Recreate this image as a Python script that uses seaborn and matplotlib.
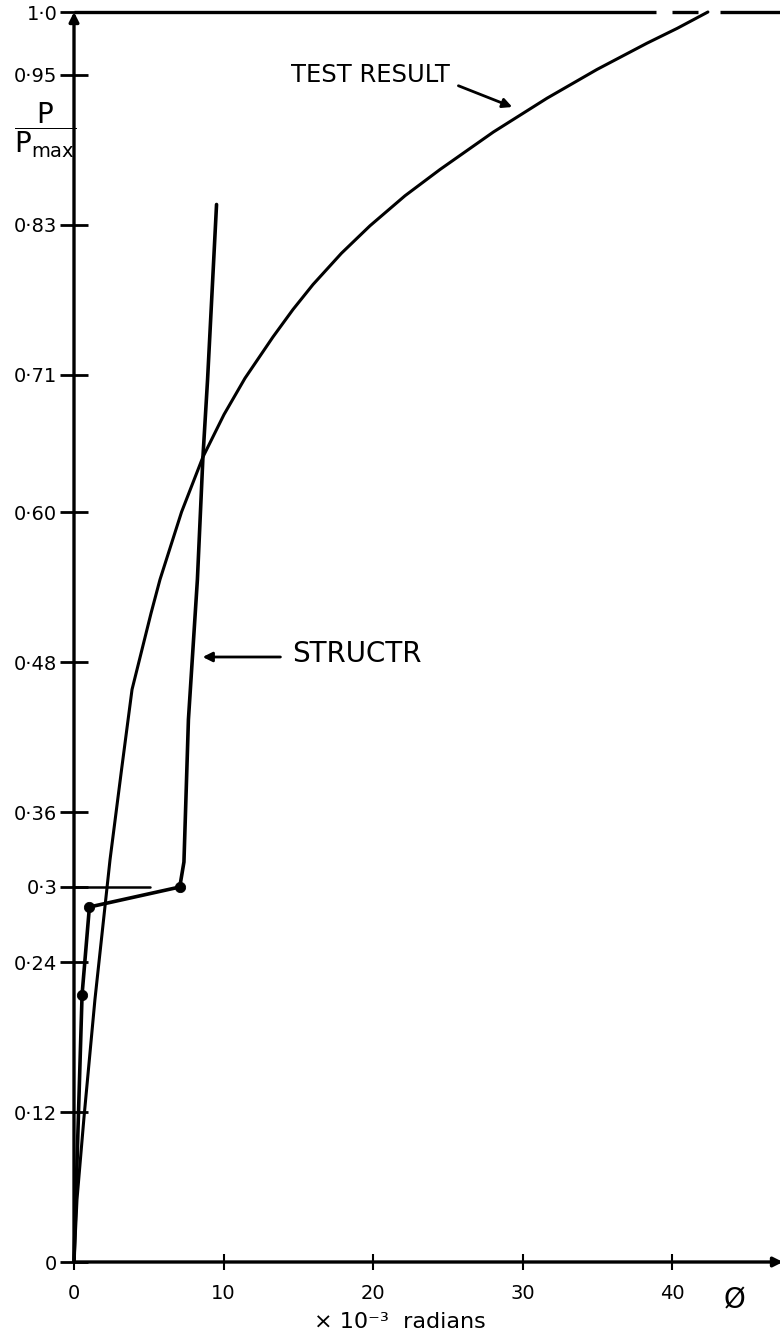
import matplotlib
matplotlib.use("Agg")
import matplotlib.pyplot as plt
import seaborn as sns
import pandas as pd

sns.set_theme(style="white")
plt.rcParams["font.family"] = ["DejaVu Sans"]
plt.rcParams["mathtext.fontset"] = "dejavusans"
plt.rcParams["text.color"] = "black"

# Measured load-rotation curve (test), rotation in 1e-3 rad vs P/Pmax
test_phi = [0.0, 0.20, 0.67, 1.40, 2.41, 3.18, 3.88, 5.15, 5.75, 7.19,
            8.62, 10.03, 11.43, 13.30, 14.64, 15.98, 17.88, 19.79, 22.13,
            24.47, 28.04, 31.62, 34.96, 38.30, 40.34, 42.38]
test_p = [0.0, 0.050, 0.116, 0.210, 0.322, 0.394, 0.458, 0.519, 0.546,
          0.600, 0.644, 0.678, 0.707, 0.740, 0.762, 0.782, 0.807, 0.829,
          0.853, 0.874, 0.904, 0.931, 0.954, 0.975, 0.987, 1.0]

# STRUCTR prediction
structr_phi = [0.0, 0.54, 1.03, 7.07, 7.35, 7.65, 8.25, 8.62, 8.93, 9.53]
structr_p = [0.0, 0.214, 0.284, 0.30, 0.32, 0.434, 0.546, 0.644, 0.706, 0.846]

node_phi = [0.54, 1.03, 7.07]
node_p = [0.214, 0.284, 0.30]

ytick_vals = [0, 0.12, 0.24, 0.30, 0.36, 0.48, 0.60, 0.71, 0.83, 0.95, 1.0]
ytick_labels = ["0", "0·12", "0·24", "0·3", "0·36", "0·48", "0·60",
                "0·71", "0·83", "0·95", "1·0"]
xtick_vals = [0, 10, 20, 30, 40]
xtick_labels = ["0", "10", "20", "30", "40"]

# Frame pieces along P = 1.0 (solid run then dashes)
top_runs = [(0.0, 38.9), (40.0, 41.7), (43.2, 47.4)]
guide_p = 0.30
guide_end = 5.1
x_max = 47.2

test_df = pd.DataFrame({"phi": test_phi, "p": test_p})
structr_df = pd.DataFrame({"phi": structr_phi, "p": structr_p})
node_df = pd.DataFrame({"phi": node_phi, "p": node_p})

fig = plt.figure(figsize=(7.8, 13.41), dpi=100)
ax = fig.add_axes([74 / 780, 79 / 1341, 1 - 74 / 780, 1250 / 1341])

sns.lineplot(data=test_df, x="phi", y="p", sort=False, estimator=None,
             color="black", lw=2.2, ax=ax, clip_on=False,
             solid_joinstyle="round")
sns.lineplot(data=structr_df, x="phi", y="p", sort=False, estimator=None,
             color="black", lw=2.6, ax=ax, clip_on=False,
             solid_joinstyle="round")
sns.scatterplot(data=node_df, x="phi", y="p", color="black", s=55,
                edgecolor="black", ax=ax, zorder=5, clip_on=False)

# guide line at P = 0.3
ax.plot([0, guide_end], [guide_p, guide_p], color="black", lw=1.8)

# top frame line
for a, b in top_runs:
    ax.plot([a, b], [1.0, 1.0], color="black", lw=2.4, clip_on=False,
            solid_capstyle="butt")

ax.set_xlim(0, x_max)
ax.set_ylim(0, 1.0)
for s in ax.spines.values():
    s.set_visible(False)

# axes with arrow heads
ax.annotate("", xy=(0, 1.0), xytext=(0, 0), xycoords="data",
            arrowprops=dict(arrowstyle="-|>", lw=2.4, color="black",
                            mutation_scale=14, shrinkA=0, shrinkB=0),
            annotation_clip=False)
ax.annotate("", xy=(x_max + 0.2, 0), xytext=(0, 0), xycoords="data",
            arrowprops=dict(arrowstyle="-|>", lw=2.4, color="black",
                            mutation_scale=14, shrinkA=0, shrinkB=0),
            annotation_clip=False)

ax.set_yticks(ytick_vals)
ax.set_yticklabels(ytick_labels)
ax.set_xticks(xtick_vals)
ax.set_xticklabels(xtick_labels)
ax.tick_params(axis="y", direction="inout", length=20, width=2, pad=2,
               labelsize=14, left=True, colors="black")
ax.tick_params(axis="x", direction="inout", length=12, width=1.5, pad=10,
               labelsize=14, bottom=True, colors="black")
ax.set_xlabel("")
ax.set_ylabel("")

ax.text(14.5, 0.95, "TEST RESULT", fontsize=17.5, ha="left", va="center",
        color="black")
ax.annotate("", xy=(29.3, 0.924), xytext=(25.7, 0.941),
            arrowprops=dict(arrowstyle="-|>", lw=2, color="black",
                            mutation_scale=14, shrinkA=0, shrinkB=0))
ax.text(14.6, 0.486, "STRUCTR", fontsize=20, ha="left", va="center",
        color="black")
ax.annotate("", xy=(8.6, 0.484), xytext=(13.8, 0.484),
            arrowprops=dict(arrowstyle="-|>", lw=2, color="black",
                            mutation_scale=14, shrinkA=0, shrinkB=0))

fig.text(45 / 780, 1 - 130 / 1341,
         r"$\dfrac{\mathrm{P}}{\mathrm{P_{max}}}$", fontsize=20,
         ha="center", va="center", color="black")
fig.text(735 / 780, 1 - 1300 / 1341, "Ø", fontsize=20, ha="center",
         va="center", color="black")
fig.text(400 / 780, 1 - 1322 / 1341, "× 10⁻³  radians", fontsize=16,
         ha="center", va="center", color="black")

fig.savefig("out.png", dpi=100, facecolor="white")
